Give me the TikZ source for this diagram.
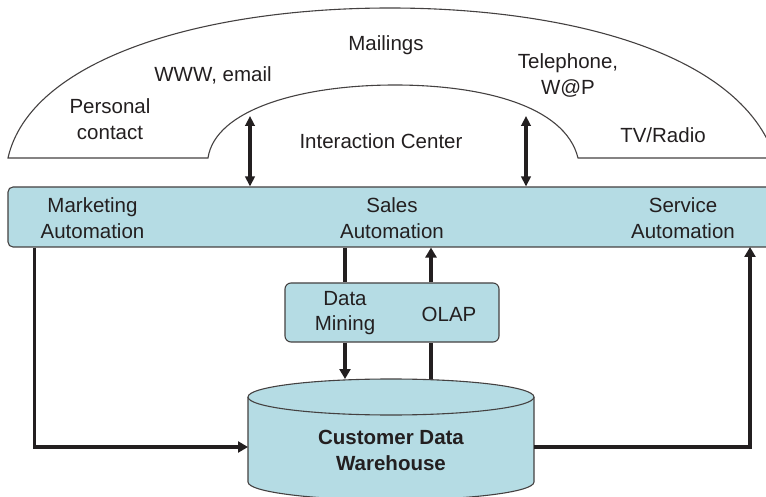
\documentclass[tikz,border=0pt]{standalone}
\usepackage{fontspec}
\setmainfont{Liberation Sans}
\usetikzlibrary{arrows.meta,positioning}
\definecolor{crmblue}{RGB}{181,220,228}
\definecolor{ink}{RGB}{35,31,32}

\begin{document}
\begin{tikzpicture}[x=1pt,y=-1pt,
      font=\fontsize{20.5}{25.5}\selectfont,
      lbl/.style={align=center,inner sep=0pt,text=ink},
      panel/.style={draw=ink!85,fill=crmblue,rounded corners=5pt,
                    line width=1.1pt,inner sep=0pt},
      edge/.style={draw=ink!85,line width=1.1pt},
      link/.style={draw=ink,line width=3.8pt},
      arr/.style={link,-{Triangle[length=10pt,width=11pt]}},
      dbl/.style={draw=ink,line width=3.4pt,
                  {Triangle[length=10pt,width=9.5pt]}-{Triangle[length=10pt,width=9.5pt]}}]
    \clip (0,0) rectangle (766,497);

    % channel arch
    \draw[edge] (8,158) .. controls (30,60) and (200,8) .. (390,8)
        .. controls (560,8) and (740,50) .. (775,158) -- (578,158)
        .. controls (565,105) and (480,85) .. (395,85)
        .. controls (300,85) and (215,110) .. (208,158) -- cycle;

    \node[lbl] (mail) at (386,45) {Mailings};
    \node[lbl] (www) at (213,75) {WWW, email};
    \node[lbl] (personal) at (110,119) {Personal\\contact};
    \node[lbl] (phone) at (568,75.5) {Telephone,\\W@P};
    \node[lbl] (center) at (381,141) {Interaction Center};
    \node[lbl] (tv) at (663,135) {TV/Radio};

    % operational layer
    \node[panel,minimum width=772pt,minimum height=60pt] (bar) at (394,217) {};
    \node[lbl] (mkt) at (92.5,218) {Marketing\\Automation};
    \node[lbl] (sales) at (392,218) {Sales\\Automation};
    \node[lbl] (svc) at (683,218) {Service\\Automation};

    % analysis box
    \node[panel,rounded corners=6pt,minimum width=214pt,minimum height=59pt]
      (dmbox) at (392,312.5) {};
    \node[lbl] (dm) at (345,313) {Data\\Mining};
    \node[lbl] (olap) at (449,314) {OLAP};

    % warehouse
    \fill[crmblue] (248,397) -- (248,482)
        arc[start angle=180,end angle=360,x radius=143pt,y radius=18pt]
        -- (534,397) -- cycle;
    \draw[edge] (248,397) -- (248,482)
        arc[start angle=180,end angle=360,x radius=143pt,y radius=18pt]
        -- (534,397);
    \draw[edge,fill=crmblue] (391,397) ellipse[x radius=143pt,y radius=18pt];
    \node[lbl,font=\fontsize{20.5}{26}\selectfont\bfseries] (dw) at (391,450)
      {Customer Data\\Warehouse};
    \coordinate (cyln) at (391,379);
    \coordinate (cylw) at (248,447);
    \coordinate (cyle) at (534,447);

    \coordinate (ic1) at (250,116);
    \coordinate (ic2) at (526,116);
    \coordinate (colb) at (431,0);
    \coordinate (svcin) at (750,247);

    \draw[dbl] (ic1) -- (ic1 |- bar.north);
    \draw[dbl] (ic2) -- (ic2 |- bar.north);
    \draw[link] (bar.south -| dm) -- (dmbox.north -| dm);
    \draw[arr] (dmbox.south -| dm) -- (cyln -| dm);
    \draw[link] (cyln -| colb) -- (dmbox.south -| colb);
    \draw[arr] (dmbox.north -| colb) -- (bar.south -| colb);
    \draw[arr] ([xshift=27pt]bar.south west) |- (cylw);
    \draw[arr] (cyle) -| (svcin);
  \end{tikzpicture}
\end{document}
